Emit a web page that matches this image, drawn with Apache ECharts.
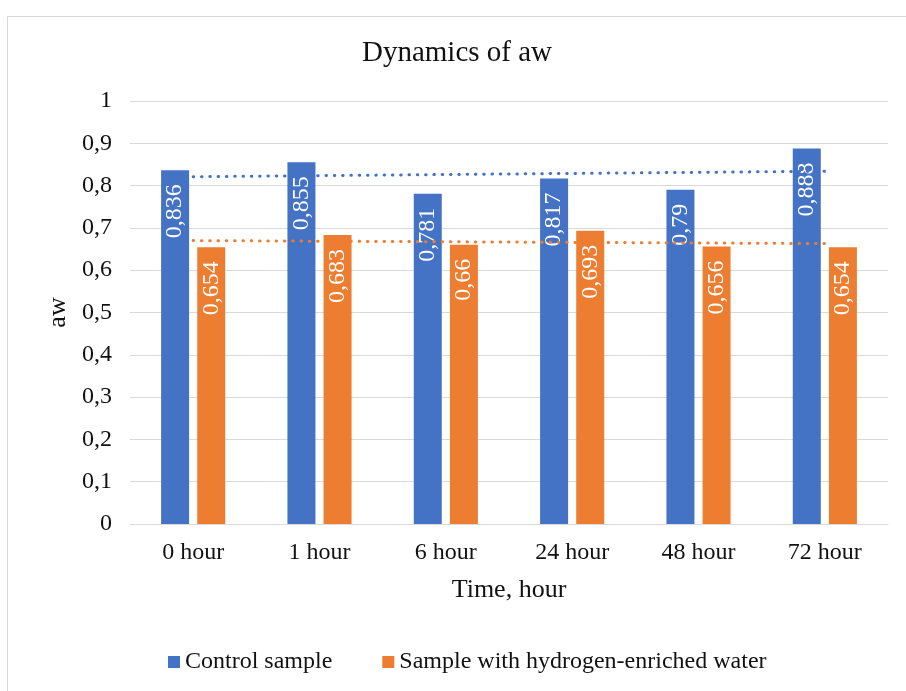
<!DOCTYPE html>
<html>
<head>
<meta charset="utf-8">
<script src="https://cdn.jsdelivr.net/npm/echarts@6/dist/echarts.min.js"></script>
<style>html,body{margin:0;padding:0;background:#fff;}#c{width:906px;height:691px;}</style>
</head>
<body>
<div id="c"></div>
<script>
var categories = ['0 hour', '1 hour', '6 hour', '24 hour', '48 hour', '72 hour'];
var controlValues = [0.836, 0.855, 0.781, 0.817, 0.79, 0.888];
var hydrogenValues = [0.654, 0.683, 0.66, 0.693, 0.656, 0.654];
// trend line end values (first and last category)
var controlTrend = [0.821, 0.834];
var hydrogenTrend = [0.670, 0.663];
var yTicks = [0, 0.1, 0.2, 0.3, 0.4, 0.5, 0.6, 0.7, 0.8, 0.9, 1];

var FONT = "'Liberation Serif', 'Times New Roman', serif";
var BLUE = '#4472C4', ORANGE = '#ED7D31';
function comma(v) { return String(v).replace('.', ','); }

var barLabel = {
  show: true, position: 'insideTop', rotate: 90, align: 'right', verticalAlign: 'middle',
  distance: 14, color: '#fff', fontFamily: FONT, fontSize: 24,
  formatter: function (p) { return comma(p.value); }
};
function trendStyle(color) {
  return { color: color, width: 3, type: [0.5, 7.8], cap: 'round' };
}

var chart = echarts.init(document.getElementById('c'), null, { renderer: 'canvas' });
chart.setOption({
  backgroundColor: '#fff',
  animation: false,
  graphic: [{
    type: 'rect', left: 5, top: 14, shape: { width: 905, height: 675 },
    style: { fill: 'none', stroke: '#d9d9d9', lineWidth: 1 }, silent: true, z: -1
  }],
  title: {
    text: 'Dynamics of aw', left: 362, top: 39, padding: 0,
    textStyle: { fontFamily: FONT, fontSize: 29, fontWeight: 'normal', color: '#111' }
  },
  legend: {
    left: 168, top: 650, padding: 0, itemWidth: 12, itemHeight: 12, itemGap: 50,
    icon: 'rect', data: ['Control sample', 'Sample with hydrogen-enriched water'],
    textStyle: { fontFamily: FONT, fontSize: 24, color: '#111' }
  },
  grid: { left: 130, right: 18, top: 101, bottom: 167 },
  xAxis: {
    type: 'category', data: categories,
    name: 'Time, hour', nameLocation: 'middle', nameGap: 53,
    nameTextStyle: { fontFamily: FONT, fontSize: 26, color: '#111' },
    axisLine: { lineStyle: { color: '#d9d9d9', width: 1 } },
    axisTick: { show: false },
    axisLabel: { fontFamily: FONT, fontSize: 24, color: '#111', margin: 17 }
  },
  yAxis: {
    type: 'value', min: yTicks[0], max: yTicks[yTicks.length - 1], interval: 0.1,
    name: 'aw', nameLocation: 'middle', nameGap: 56,
    nameTextStyle: { fontFamily: FONT, fontSize: 26, color: '#111' },
    axisLine: { show: false }, axisTick: { show: false },
    splitLine: { lineStyle: { color: '#d9d9d9', width: 1 } },
    axisLabel: {
      fontFamily: FONT, fontSize: 24, color: '#111', margin: 18,
      formatter: function (v) { return comma(Math.round(v * 10) / 10); }
    }
  },
  series: [
    { name: 'Control sample', type: 'bar', data: controlValues, barWidth: 28, barGap: '29%',
      itemStyle: { color: BLUE }, label: barLabel, z: 2 },
    { name: 'Sample with hydrogen-enriched water', type: 'bar', data: hydrogenValues, barWidth: 28,
      itemStyle: { color: ORANGE }, label: barLabel, z: 2 },
    { name: 'Control trend', type: 'line', symbol: 'none', silent: true, z: 5,
      data: [[categories[0], controlTrend[0]], [categories[categories.length - 1], controlTrend[1]]],
      lineStyle: trendStyle(BLUE) },
    { name: 'Hydrogen trend', type: 'line', symbol: 'none', silent: true, z: 5,
      data: [[categories[0], hydrogenTrend[0]], [categories[categories.length - 1], hydrogenTrend[1]]],
      lineStyle: trendStyle(ORANGE) }
  ]
});
</script>
</body>
</html>
